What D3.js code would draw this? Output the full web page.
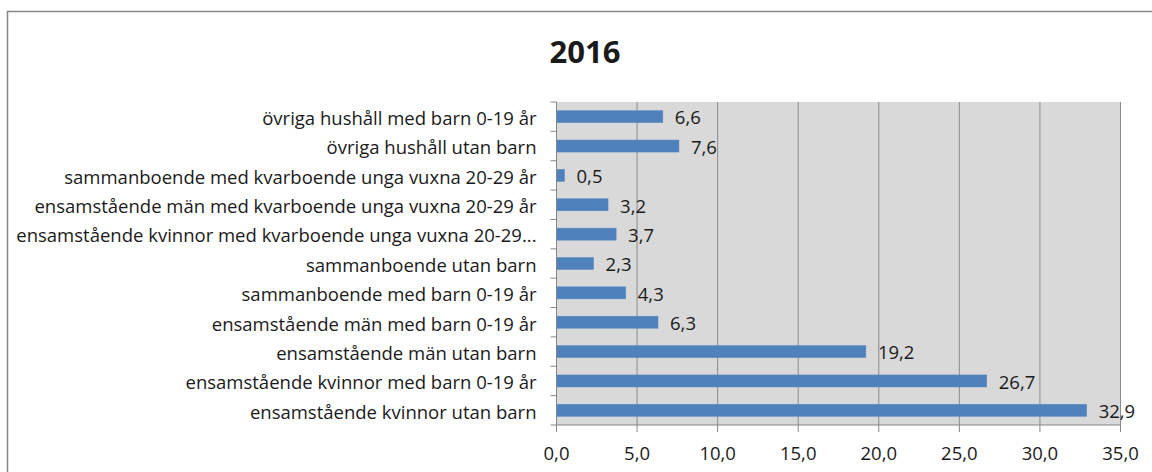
<!DOCTYPE html>
<html>
<head>
<meta charset="utf-8">
<script src="https://cdn.jsdelivr.net/npm/d3@7"></script>
<style>
  body { margin: 0; background: #fff; }
  svg { display: block; }
  text { font-family: "Open Sans", Lato, sans-serif; fill: #1a1a1a; }
</style>
</head>
<body>
<svg id="base" width="1152" height="472"></svg>
<script>
let categories = [
    "övriga hushåll med barn 0-19 år",
    "övriga hushåll utan barn",
    "sammanboende med kvarboende unga vuxna 20-29 år",
    "ensamstående män med kvarboende unga vuxna 20-29 år",
    "ensamstående kvinnor med kvarboende unga vuxna 20-29...",
    "sammanboende utan barn",
    "sammanboende med barn 0-19 år",
    "ensamstående män med barn 0-19 år",
    "ensamstående män utan barn",
    "ensamstående kvinnor med barn 0-19 år",
    "ensamstående kvinnor utan barn"
]
let values = [6.6, 7.6, 0.5, 3.2, 3.7, 2.3, 4.3, 6.3, 19.2, 26.7, 32.9]
let xTicks = [0, 5, 10, 15, 20, 25, 30, 35]
let title = "2016"

const base = d3.select('#base')
const fmt = v => v.toFixed(1).replace('.', ',')

// chart frame, right and bottom edges fall outside the picture
base.append('rect')
    .attr('x', 7.5).attr('y', 11.5)
    .attr('width', 1200).attr('height', 500)
    .style('fill', 'none')
    .style('stroke', '#878787')
    .style('stroke-width', 1.5)

let pLeft = 556.5, pRight = 1120.5, pTop = 102, pBottom = 425

let x = d3.scaleLinear().domain([0, 35]).range([pLeft, pRight])
let y = d3.scaleBand().domain(categories).range([pTop, pBottom]).paddingInner(0.59).paddingOuter(0.295)

base.append('rect')
    .attr('x', pLeft).attr('y', pTop)
    .attr('width', pRight - pLeft).attr('height', pBottom - pTop)
    .style('fill', '#d9d9d9')

// vertical grid
base.append('g')
    .selectAll('line')
    .data(xTicks.slice(1))
    .join('line')
    .attr('x1', d => x(d)).attr('x2', d => x(d))
    .attr('y1', pTop).attr('y2', pBottom)
    .style('stroke', '#8c8c8c')
    .style('stroke-width', 1)

base.append('g')
    .selectAll('rect')
    .data(values)
    .join('rect')
    .attr('x', x(0))
    .attr('y', (d, i) => y(categories[i]))
    .attr('width', d => x(d) - x(0))
    .attr('height', y.bandwidth())
    .style('fill', '#4f81bd')
    .style('stroke', '#5a8ac4')
    .style('stroke-width', 0.5)

base.append('g')
    .selectAll('text')
    .data(values)
    .join('text')
    .attr('x', d => x(d) + 12)
    .attr('y', (d, i) => y(categories[i]) + y.bandwidth() / 2)
    .attr('dy', '0.42em')
    .style('font-size', '18.5px')
    .text(d => fmt(d))

// y axis
let yAxis = base.append('g').attr('transform', `translate(${pLeft},0)`)
yAxis.append('line')
    .attr('x1', 0).attr('x2', 0).attr('y1', pTop).attr('y2', pBottom)
    .style('stroke', '#868686')
let bounds = d3.range(categories.length + 1).map(i => pTop + i * (pBottom - pTop) / categories.length)
yAxis.selectAll('.tk')
    .data(bounds)
    .join('line')
    .attr('x1', -6).attr('x2', 0)
    .attr('y1', d => d).attr('y2', d => d)
    .style('stroke', '#868686')
yAxis.selectAll('text')
    .data(categories)
    .join('text')
    .attr('x', -20)
    .attr('y', d => y(d) + y.bandwidth() / 2)
    .attr('dy', '0.45em')
    .attr('text-anchor', 'end')
    .style('font-size', '18.5px')
    .text(d => d)

// x axis
let xAxis = base.append('g')
xAxis.append('line')
    .attr('x1', pLeft).attr('x2', pRight).attr('y1', pBottom).attr('y2', pBottom)
    .style('stroke', '#868686')
xAxis.selectAll('.tk')
    .data(xTicks)
    .join('line')
    .attr('x1', d => x(d)).attr('x2', d => x(d))
    .attr('y1', pBottom).attr('y2', pBottom + 7)
    .style('stroke', '#868686')
xAxis.selectAll('text')
    .data(xTicks)
    .join('text')
    .attr('x', d => x(d))
    .attr('y', 460)
    .attr('text-anchor', 'middle')
    .style('font-size', '18.5px')
    .text(d => fmt(d))

base.append('text')
    .attr('x', 585)
    .attr('y', 63)
    .attr('text-anchor', 'middle')
    .style('font-size', '31px')
    .style('font-weight', 'bold')
    .text(title)
</script>
</body>
</html>
